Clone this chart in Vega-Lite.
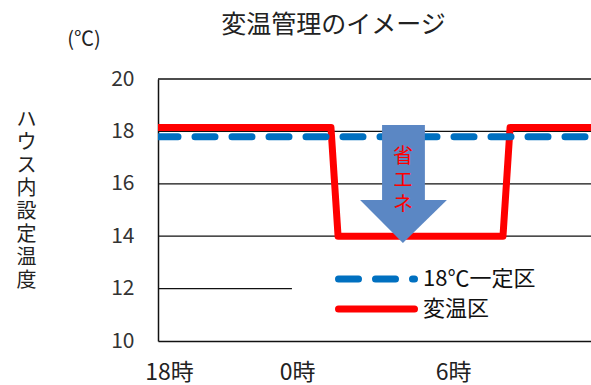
{
  "$schema": "https://vega.github.io/schema/vega-lite/v6.json",
  "width": 433,
  "height": 262,
  "autosize": "none",
  "padding": {"left": 158, "top": 79, "right": 0, "bottom": 44},
  "background": "white",
  "config": {"view": {"stroke": null}, "font": "Noto Sans CJK JP"},
  "title": {"text": "変温管理のイメージ", "fontSize": 25, "fontWeight": "normal", "color": "#222222", "anchor": "middle", "frame": "group", "dx": -41, "offset": -8, "font": "Noto Sans CJK JP"},
  "datasets": {
    "grid": [
      {"y": 12, "x": -6.3, "x2": -0.64},
      {"y": 14, "x": -6.3, "x2": 12},
      {"y": 16, "x": -6.3, "x2": 12},
      {"y": 18, "x": -6.3, "x2": 12},
      {"y": 20, "x": -6.3, "x2": 12}
    ],
    "lines": [
      {"series": "変温区", "x": -6.3, "y": 18.15},
      {"series": "変温区", "x": 1.01, "y": 18.15},
      {"series": "変温区", "x": 1.31, "y": 14},
      {"series": "変温区", "x": 8.28, "y": 14},
      {"series": "変温区", "x": 8.58, "y": 18.15},
      {"series": "変温区", "x": 12, "y": 18.15},
      {"series": "18℃一定区", "x": -6.3, "y": 17.8},
      {"series": "18℃一定区", "x": 12, "y": 17.8}
    ],
    "shaft": [{"x": 3.17, "x2": 4.98, "y": 18.24, "y2": 15.38}],
    "head": [
      {"x": 2.24, "y": 15.38, "y2": 15.38},
      {"x": 4.05, "y": 15.38, "y2": 13.74},
      {"x": 5.91, "y": 15.38, "y2": 15.38}
    ],
    "labels": [{"x": 4.05, "y": 17.02, "t": "省\nエ\nネ"}],
    "unit": [{"x": -9.43, "y": 21.49, "t": "(℃)"}]
  },
  "layer": [
    {
      "data": {"name": "grid"},
      "mark": {"type": "rule", "color": "#111111", "strokeWidth": 1.3},
      "encoding": {
        "x": {"field": "x", "type": "quantitative", "scale": {"domain": [-6.3, 12], "nice": false, "zero": false},
          "axis": {"values": [-6, 0, 6], "labelExpr": "datum.value == -6 ? '18時' : datum.value == 0 ? '0時' : '6時'", "labelOffset": {"expr": "datum.value == 0 ? -10 : 4"}, "title": null, "grid": false, "ticks": false, "domainColor": "#111111", "domainWidth": 1.5, "labelFontSize": 23, "labelColor": "#222222", "labelPadding": 20, "labelFont": "Noto Sans CJK JP"}},
        "x2": {"field": "x2"},
        "y": {"field": "y", "type": "quantitative", "scale": {"domain": [10, 20], "nice": false, "zero": false},
          "axis": {"values": [10, 12, 14, 16, 18, 20], "grid": false, "ticks": false, "domainColor": "#111111", "domainWidth": 1.5, "labelFontSize": 21, "labelColor": "#333333", "labelPadding": 24, "labelFont": "Noto Sans CJK JP",
            "title": ["ハ", "ウ", "ス", "内", "設", "定", "温", "度"], "titleAngle": 0, "titleX": -132, "titleY": 30, "titleBaseline": "top", "titleAlign": "center", "titleFontSize": 20, "titleFontWeight": "normal", "titleLineHeight": 23, "titleColor": "#222222", "titleFont": "Noto Sans CJK JP"}}
      }
    },
    {
      "data": {"name": "lines"},
      "mark": {"type": "line", "strokeWidth": 7, "strokeCap": "round", "strokeJoin": "round", "clip": true},
      "encoding": {
        "x": {"field": "x", "type": "quantitative"},
        "y": {"field": "y", "type": "quantitative"},
        "color": {"field": "series", "type": "nominal",
          "scale": {"domain": ["18℃一定区", "変温区"], "range": ["#0070C0", "#FF0000"]},
          "legend": {"title": null, "orient": "none", "legendX": 177, "legendY": 187, "padding": 0, "symbolType": "stroke", "symbolSize": 5776, "symbolStrokeWidth": 7, "clipHeight": 26, "rowPadding": 4, "labelOffset": 5, "labelFontSize": 22, "labelColor": "#111111", "labelFont": "Noto Sans CJK JP", "encode": {"symbols": {"update": {"strokeCap": {"value": "round"}}}}}},
        "strokeDash": {"field": "series", "type": "nominal",
          "scale": {"domain": ["18℃一定区", "変温区"], "range": [[20, 17], [1, 0]]}}
      }
    },
    {
      "data": {"name": "shaft"},
      "mark": {"type": "rect", "color": "#5B87C4"},
      "encoding": {
        "x": {"field": "x", "type": "quantitative"},
        "x2": {"field": "x2"},
        "y": {"field": "y", "type": "quantitative"},
        "y2": {"field": "y2"}
      }
    },
    {
      "data": {"name": "head"},
      "mark": {"type": "area", "color": "#5B87C4", "orient": "vertical"},
      "encoding": {
        "x": {"field": "x", "type": "quantitative"},
        "y": {"field": "y", "type": "quantitative"},
        "y2": {"field": "y2"}
      }
    },
    {
      "data": {"name": "labels"},
      "mark": {"type": "text", "color": "#FF0000", "fontSize": 20, "lineBreak": "\n", "lineHeight": 24, "align": "center", "baseline": "middle", "font": "Noto Sans CJK JP"},
      "encoding": {
        "x": {"field": "x", "type": "quantitative"},
        "y": {"field": "y", "type": "quantitative"},
        "text": {"field": "t"}
      }
    },
    {
      "data": {"name": "unit"},
      "mark": {"type": "text", "color": "#222222", "fontSize": 20, "align": "center", "baseline": "middle", "font": "Noto Sans CJK JP"},
      "encoding": {
        "x": {"field": "x", "type": "quantitative"},
        "y": {"field": "y", "type": "quantitative"},
        "text": {"field": "t"}
      }
    }
  ]
}
